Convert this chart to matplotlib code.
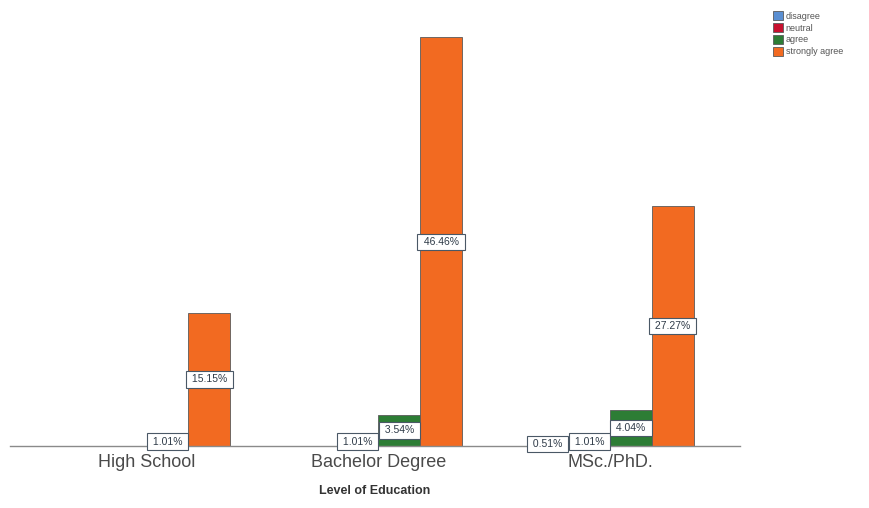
import numpy as np
import matplotlib
matplotlib.use('Agg')
import matplotlib.pyplot as plt

plt.rcParams['font.family'] = ['Liberation Sans', 'DejaVu Sans']

# data (percent of total), nan = no bar
groups = ['High School', 'Bachelor Degree', 'MSc./PhD.']
series = ['disagree', 'neutral', 'agree', 'strongly agree']
disagree = [np.nan, np.nan, 0.51]
neutral = [np.nan, 1.01, 1.01]
agree = [1.01, 3.54, 4.04]
strongly_agree = [15.15, 46.46, 27.27]
colors = ['#5a8fd2', '#c8102e', '#2d7d35', '#f26a21']

values = [disagree, neutral, agree, strongly_agree]

fig = plt.figure(figsize=(8.69, 5.08), dpi=100)
ax = fig.add_axes([0.0115, 0.122, 0.84, 0.84])

x = np.arange(len(groups))
w = 0.18
for i, (name, vals, c) in enumerate(zip(series, values, colors)):
    pos = x + (i - 1.5) * w
    bars = ax.bar(pos, vals, width=w, color=c, edgecolor='#5a5a5a',
                  linewidth=0.6, label=name)
    # padded with spaces so the boxes come out as wide as the bars
    labels = ['' if np.isnan(v) else f' {v:.2f}% ' for v in vals]
    ax.bar_label(bars, labels=labels, label_type='center', fontsize=7.5,
                 color='#2f3b48',
                 bbox=dict(boxstyle='square,pad=0.3', facecolor='white',
                           edgecolor='#4a5866', linewidth=0.8))

ax.set_xlim(-0.59, 2.56)
ax.set_ylim(0, 48.5)
ax.set_xticks(x)
ax.set_xticklabels(groups, fontsize=13, color='#4a4a4a')
ax.tick_params(axis='x', length=0, pad=6)
ax.set_yticks([])
for s in ['top', 'right', 'left']:
    ax.spines[s].set_visible(False)
ax.spines['bottom'].set_color('#8a8a8a')
ax.spines['bottom'].set_linewidth(1.0)
ax.set_xlabel('Level of Education', fontsize=9, fontweight='bold',
              color='#333333', labelpad=10)

fig.legend(loc='upper left', bbox_to_anchor=(0.885, 0.985), frameon=False,
           fontsize=6.5, handlelength=1.1, handleheight=1.1,
           handletextpad=0.35, labelspacing=0.28, borderaxespad=0,
           labelcolor='#555555')

fig.savefig('out.png', dpi=100, facecolor='white')
